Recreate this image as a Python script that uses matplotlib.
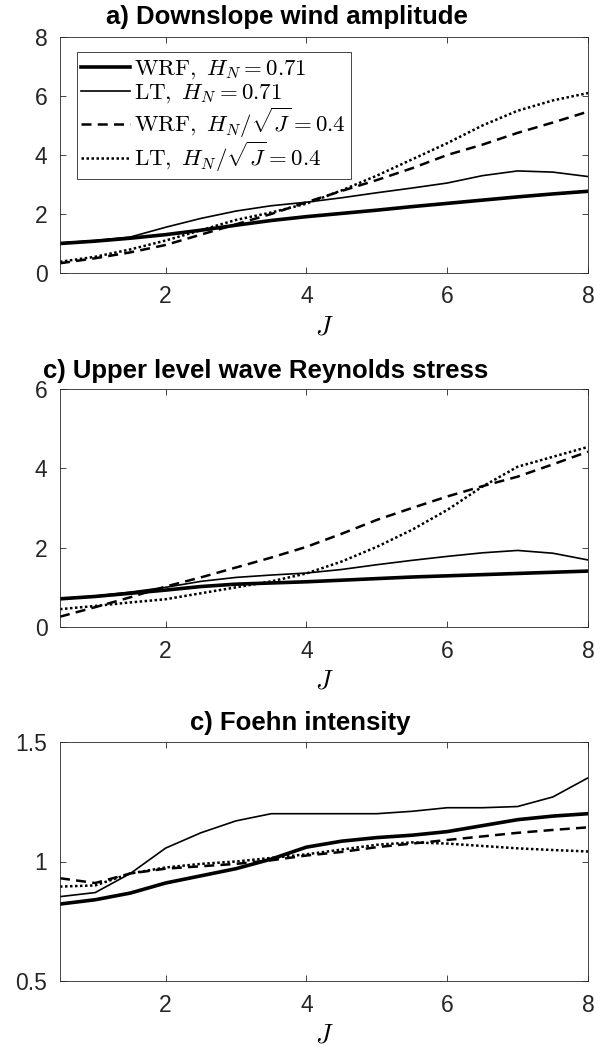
import numpy as np
import matplotlib
matplotlib.use("Agg")
import matplotlib.pyplot as plt

plt.rcParams['font.family'] = ['Liberation Sans', 'DejaVu Sans']
plt.rcParams['mathtext.fontset'] = 'cm'

J = [0.5, 1.0, 1.5, 2.0, 2.5, 3.0, 3.5, 4.0, 4.5, 5.0, 5.5, 6.0, 6.5, 7.0, 7.5, 8.0]

# a) downslope wind amplitude
amp_wrf = [1.00, 1.08, 1.18, 1.30, 1.45, 1.62, 1.78, 1.91, 2.02, 2.13, 2.25, 2.36, 2.47, 2.58, 2.68, 2.77]
amp_lt = [1.02, 1.10, 1.22, 1.55, 1.85, 2.10, 2.28, 2.40, 2.55, 2.72, 2.88, 3.05, 3.30, 3.46, 3.42, 3.27]
amp_wrf_s = [0.33, 0.50, 0.70, 0.95, 1.30, 1.65, 2.00, 2.40, 2.78, 3.15, 3.55, 4.00, 4.35, 4.75, 5.10, 5.47]
amp_lt_s = [0.38, 0.55, 0.80, 1.10, 1.45, 1.80, 2.05, 2.35, 2.80, 3.30, 3.85, 4.40, 5.00, 5.50, 5.85, 6.10]

# c) upper level wave Reynolds stress
rs_wrf = [0.71, 0.77, 0.85, 0.93, 1.02, 1.08, 1.11, 1.14, 1.18, 1.22, 1.26, 1.29, 1.32, 1.35, 1.38, 1.41]
rs_lt = [0.72, 0.78, 0.88, 1.00, 1.15, 1.25, 1.31, 1.36, 1.45, 1.57, 1.68, 1.78, 1.87, 1.93, 1.86, 1.69]
rs_wrf_s = [0.26, 0.50, 0.75, 1.02, 1.25, 1.50, 1.75, 2.02, 2.35, 2.70, 3.00, 3.29, 3.55, 3.79, 4.10, 4.42]
rs_lt_s = [0.45, 0.53, 0.62, 0.70, 0.85, 1.00, 1.15, 1.35, 1.65, 2.02, 2.45, 2.95, 3.54, 4.04, 4.29, 4.54]

# c) foehn intensity
fi_wrf = [0.822, 0.840, 0.868, 0.910, 0.940, 0.970, 1.010, 1.060, 1.085, 1.100, 1.110, 1.125, 1.150, 1.175, 1.190, 1.200]
fi_lt = [0.853, 0.870, 0.950, 1.056, 1.120, 1.170, 1.200, 1.200, 1.200, 1.200, 1.210, 1.225, 1.225, 1.230, 1.270, 1.350]
fi_wrf_s = [0.930, 0.910, 0.950, 0.970, 0.980, 0.990, 1.005, 1.025, 1.040, 1.060, 1.075, 1.090, 1.105, 1.120, 1.132, 1.143]
fi_lt_s = [0.895, 0.900, 0.950, 0.975, 0.990, 1.000, 1.015, 1.030, 1.050, 1.070, 1.080, 1.075, 1.065, 1.055, 1.048, 1.042]

labels = [r'$\mathrm{WRF},\ H_N=0.71$',
          r'$\mathrm{LT},\ H_N=0.71$',
          r'$\mathrm{WRF},\ H_N/\sqrt{J}=0.4$',
          r'$\mathrm{LT},\ H_N/\sqrt{J}=0.4$']

styles = [dict(lw=2.6, ls='-'),
          dict(lw=1.2, ls='-'),
          dict(lw=1.8, ls=(0, (4, 2.5))),
          dict(lw=1.8, ls=(0, (1, 1)))]

panels = [
    ("a) Downslope wind amplitude", [amp_wrf, amp_lt, amp_wrf_s, amp_lt_s], (0, 8), [0, 2, 4, 6, 8], ['0', '2', '4', '6', '8']),
    ("c) Upper level wave Reynolds stress", [rs_wrf, rs_lt, rs_wrf_s, rs_lt_s], (0, 6), [0, 2, 4, 6], ['0', '2', '4', '6']),
    ("c) Foehn intensity", [fi_wrf, fi_lt, fi_wrf_s, fi_lt_s], (0.5, 1.5), [0.5, 1, 1.5], ['0.5', '1', '1.5']),
]

# axes boxes in pixels (top, bottom) and title placement (x centre, y) in axes coords
boxes = [(37, 273), (389, 627), (742, 981)]
title_pos = [(0.429, 1.055), (0.39, 1.045), (0.455, 1.05)]

W, H = 594, 1047
fig = plt.figure(figsize=(W / 100, H / 100), dpi=100)

grey = '#262626'
for i, ((title, series, ylim, yt, ytl), (top, bot)) in enumerate(zip(panels, boxes)):
    ax = fig.add_axes([60 / W, 1 - bot / H, 528 / W, (bot - top) / H])
    for y, st, lab in zip(series, styles, labels):
        ax.plot(J, y, color='black', label=lab, **st)
    ax.set_xlim(0.5, 8)
    ax.set_ylim(*ylim)
    ax.set_xticks([2, 4, 6, 8])
    ax.set_yticks(yt)
    ax.set_yticklabels(ytl)
    ax.tick_params(direction='in', top=True, right=True, labelsize=16.5,
                   colors=grey, length=4, width=0.6)
    ax.tick_params(axis='y', pad=9)
    ax.tick_params(axis='x', pad=9)
    for sp in ax.spines.values():
        sp.set_color(grey)
        sp.set_linewidth(0.6)
    tx, ty = title_pos[i]
    ax.set_title(title, fontsize=18.5, fontweight='bold', x=tx, y=ty, pad=0)
    ax.set_xlabel(r'$J$', fontsize=19, labelpad=5)
    if i == 0:
        leg = ax.legend(loc='upper left', bbox_to_anchor=(0.032, 0.936),
                        fontsize=16.5, handlelength=2.1,
                        handletextpad=0.2, labelspacing=0.0, borderpad=0.2,
                        borderaxespad=0.0, fancybox=False, framealpha=1)
        leg.get_frame().set_edgecolor(grey)
        leg.get_frame().set_linewidth(0.6)

fig.savefig('out.png', dpi=100)
